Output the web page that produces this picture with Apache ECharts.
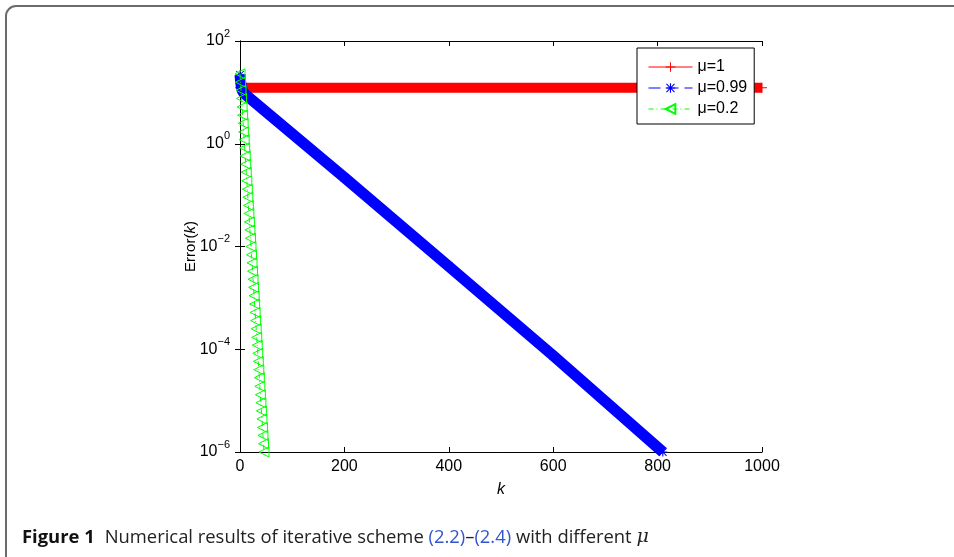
<!DOCTYPE html>
<html>
<head>
<meta charset="utf-8">
<script src="https://cdn.jsdelivr.net/npm/echarts@6/dist/echarts.min.js"></script>
<style>
  html, body { margin: 0; padding: 0; background: #fff; }
  #chart { width: 954px; height: 557px; }
</style>
</head>
<body>
<div id="chart"></div>
<script>
  // values (k, error)
  const seriesNames = ['μ=1', 'μ=0.99', 'μ=0.2']
  const errMu1 = [[0, 12.3], [1000, 12.3]]
  const errMu099 = [[0, 22], [1, 17], [2, 14], [4, 11], [8, 9.5],
    [200, 0.22], [400, 4.1e-3], [600, 7.5e-5], [810, 1.0e-6]]
  const errMu02 = [
    23, 15.8, 11, 7.6, 5.2, 3.6, 2.5, 1.7, 1.2, 0.83,
    0.58, 0.4, 0.28, 0.19, 0.13, 0.091, 0.063, 0.044, 0.03, 0.021,
    0.0145, 0.01, 6.9e-3, 4.8e-3, 3.3e-3, 2.3e-3, 1.6e-3, 1.1e-3, 7.6e-4, 5.2e-4,
    3.6e-4, 2.5e-4, 1.7e-4, 1.2e-4, 8.3e-5, 5.8e-5, 4.0e-5, 2.8e-5, 1.9e-5, 1.3e-5,
    9.1e-6, 6.3e-6, 4.4e-6, 3.0e-6, 2.1e-6, 1.45e-6, 1.0e-6
  ]
  const yTickExponents = ['2', '0', '−2', '−4', '−6']
  const yTickValues = [1e2, 1, 1e-2, 1e-4, 1e-6]

  const font = 'Liberation Sans'
  const plusPath = 'path://M0 4.5H10V5.5H0Z M4.5 0H5.5V10H4.5Z'
  const starPath = 'path://M0 4.4H10V5.6H0Z M4.4 0H5.6V10H4.4Z M1.2 0.4L9.6 8.8L8.8 9.6L0.4 1.2Z M8.8 0.4L9.6 1.2L1.2 9.6L0.4 8.8Z'

  function yLabel(v) {
    let i = yTickValues.findIndex(t => Math.abs(Math.log10(t) - Math.log10(v)) < 0.01)
    if (i < 0) return ''
    return '{b|10}{s|' + yTickExponents[i] + '}'
  }

  const chart = echarts.init(document.getElementById('chart'))
  const axisCommon = {
    axisLine: { show: true, lineStyle: { color: '#000', width: 1 } },
    axisTick: { show: true, inside: true, length: 5, lineStyle: { color: '#000' } },
    splitLine: { show: false }
  }

  const option = {
    animation: false,
    backgroundColor: '#fff',
    title: {
      left: 17,
      top: 523,
      text: '{b|Figure 1}  {n|Numerical results of iterative scheme }{l|(2.2)}{n|–}{l|(2.4)}{n| with different }{m|μ}',
      textStyle: {
        fontWeight: 'normal',
        rich: {
          b: { fontFamily: 'Open Sans', fontWeight: 'bold', fontSize: 18.4, color: '#111' },
          n: { fontFamily: 'Open Sans', fontWeight: 'normal', fontSize: 18.4, color: '#222' },
          l: { fontFamily: 'Open Sans', fontWeight: 'normal', fontSize: 18.4, color: '#3355cc' },
          m: { fontFamily: 'DejaVu Serif', fontStyle: 'italic', fontWeight: 'normal', fontSize: 19, color: '#222' }
        }
      }
    },
    graphic: [{
      type: 'rect',
      shape: { x: 6, y: 6, width: 1000, height: 562, r: 10 },
      style: { fill: 'none', stroke: '#6b6b6b', lineWidth: 2 },
      silent: true
    }],
    grid: { left: 240, right: 192, top: 41, bottom: 105 },
    legend: {
      orient: 'vertical',
      left: 637,
      top: 48,
      padding: [11, 7, 7, 11],
      itemWidth: 44,
      itemHeight: 12,
      itemGap: 5,
      borderColor: '#000',
      borderWidth: 1,
      backgroundColor: '#fff',
      textStyle: { fontFamily: font, fontSize: 16, color: '#000' },
      data: [
        { name: seriesNames[0], lineStyle: { width: 1 } },
        { name: seriesNames[1], lineStyle: { width: 1, type: [12, 6] } },
        { name: seriesNames[2], lineStyle: { width: 1, type: [5, 3, 1, 3] } }
      ]
    },
    xAxis: [{
      type: 'value',
      min: 0, max: 1000, interval: 200,
      name: 'k',
      nameLocation: 'middle',
      nameGap: 30,
      nameMoveOverlap: false,
      nameTextStyle: { fontFamily: font, fontSize: 16, fontStyle: 'italic', color: '#000' },
      axisLabel: { fontFamily: font, fontSize: 16, color: '#000', margin: 7, formatter: v => String(v) },
      ...axisCommon
    }, {
      type: 'value', position: 'top',
      min: 0, max: 1000, interval: 200,
      axisLabel: { show: false },
      ...axisCommon
    }],
    yAxis: [{
      type: 'log', logBase: 10,
      min: 1e-6, max: 1e2, interval: 2,
      name: 'Error({i|k})',
      nameLocation: 'middle',
      nameGap: 42,
      nameMoveOverlap: false,
      nameTextStyle: {
        fontFamily: font, fontSize: 15, color: '#000',
        rich: { i: { fontFamily: font, fontSize: 15, fontStyle: 'italic', color: '#000' } }
      },
      axisLabel: {
        margin: 10,
        formatter: yLabel,
        rich: {
          b: { fontFamily: font, fontSize: 16, color: '#000', lineHeight: 26 },
          s: { fontFamily: font, fontSize: 11, color: '#000', verticalAlign: 'top', lineHeight: 12 }
        }
      },
      minorTick: { show: false },
      ...axisCommon
    }, {
      type: 'log', logBase: 10, position: 'right',
      min: 1e-6, max: 1e2, interval: 2,
      axisLabel: { show: false },
      ...axisCommon
    }],
    series: [{
      name: seriesNames[0],
      type: 'line',
      data: errMu1,
      symbol: plusPath,
      symbolSize: 10,
      itemStyle: { color: '#ff0000' },
      lineStyle: { color: '#ff0000', width: 10, cap: 'butt' },
      z: 2
    }, {
      name: seriesNames[1],
      type: 'line',
      data: errMu099,
      symbol: starPath,
      symbolSize: 9,
      itemStyle: { color: '#0000ff' },
      lineStyle: { color: '#0000ff', width: 11, cap: 'butt' },
      z: 3
    }, {
      name: seriesNames[2],
      type: 'line',
      data: errMu02.map((v, k) => [k, v]),
      symbol: 'triangle',
      symbolRotate: 90,
      symbolSize: 10,
      showAllSymbol: true,
      itemStyle: { color: 'rgba(0,0,0,0)', borderColor: '#00ff00', borderWidth: 1 },
      lineStyle: { color: '#00ff00', width: 1, type: [5, 3, 1, 3] },
      z: 4
    }]
  }
  chart.setOption(option)
</script>
</body>
</html>
